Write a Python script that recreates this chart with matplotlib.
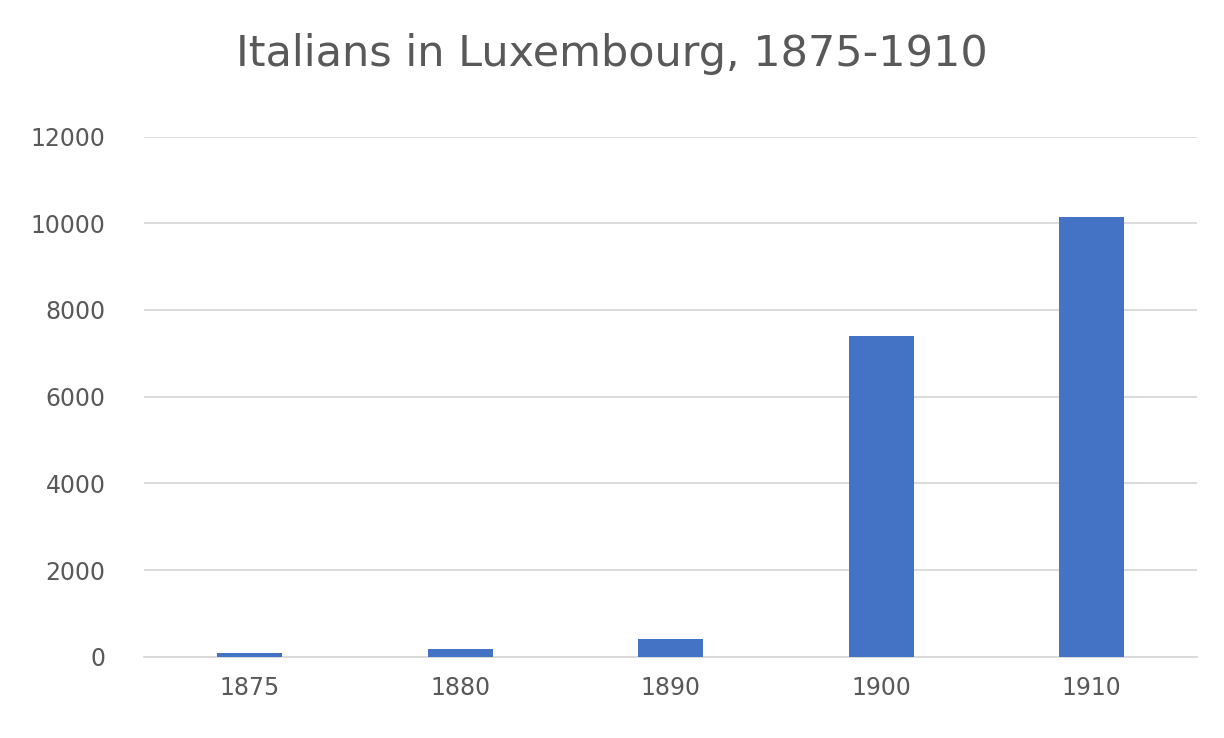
import matplotlib
matplotlib.use("Agg")
import matplotlib.pyplot as plt

years = ["1875", "1880", "1890", "1900", "1910"]
italians = [90, 190, 400, 7400, 10140]

fig = plt.figure(figsize=(12.24, 7.38), dpi=100)
ax = fig.add_axes([0.118, 0.11, 0.86, 0.705])
ax.bar(years, italians, width=0.31, color="#4472C4", zorder=3)
ax.set_ylim(0, 12000)
ax.set_yticks(range(0, 12001, 2000))
ax.set_xlim(-0.5, 4.5)
ax.grid(axis="y", color="#D9D9D9", linewidth=1.3, zorder=0)
for s in ["top", "right", "left"]:
    ax.spines[s].set_visible(False)
ax.spines["bottom"].set_color("#D9D9D9")
ax.spines["bottom"].set_linewidth(1.3)
ax.tick_params(length=0, labelsize=17, colors="#595959")
ax.tick_params(axis="x", pad=14)
ax.tick_params(axis="y", pad=28)
fig.suptitle("Italians in Luxembourg, 1875-1910", fontsize=31, color="#595959", y=0.955)
fig.savefig("out.png")
